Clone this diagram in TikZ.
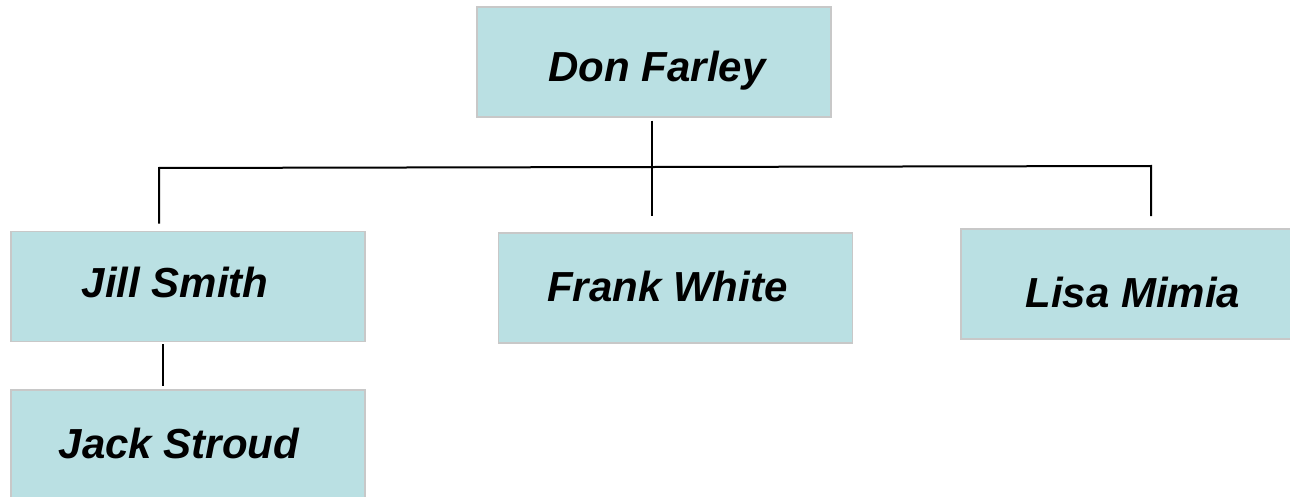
\documentclass[tikz,border=0pt]{standalone}
\usepackage{fontspec}
\setmainfont{Liberation Sans}
\definecolor{boxfill}{RGB}{186,224,227}
\definecolor{boxline}{RGB}{200,200,200}
% Text im Kasten verschieben: {dx}{dy}{Text}
\newcommand{\nudge}[3]{\raisebox{-#2}{\hspace*{#1}#3\hspace*{-#1}}}
\tikzset{
	person/.style={draw=boxline, line width=1.5pt, fill=boxfill,
		minimum width=354pt, minimum height=110pt, inner sep=0pt,
		text height=28pt, text depth=2pt,
		font=\fontsize{42}{50}\selectfont\bfseries\itshape},
	link/.style={draw=black, line width=2pt}
}
\begin{document}
\begin{tikzpicture}[x=1pt, y=-1pt]
	\useasboundingbox (0,0) rectangle (1290,497);
	% Kaesten
	\node[person] (don) at (654,62) {\nudge{3pt}{7pt}{Don Farley}};
	\node[person] (jill) at (188,286.5) {\nudge{-13pt}{-2.5pt}{Jill Smith}};
	\node[person] (frank) at (675.5,288) {\nudge{-8pt}{0pt}{Frank White}};
	\node[person] (lisa) at (1138,284) {\nudge{-5pt}{10pt}{Lisa Mimia}};
	\node[person] (jack) at (188,445) {\nudge{-9pt}{0pt}{Jack Stroud}};
	% Verbindungen
	\coordinate (hub) at (652,167);
	\coordinate (busL) at (159,168);
	\coordinate (busR) at (1151,166);
	\draw[link, shorten <=3pt, shorten >=16pt] (don.south -| hub) -- (hub |- frank.north);
	\draw[link, shorten <=7pt, shorten >=12pt] (jill.north -| busL) -- (busL) -- (busR) -- (lisa.north -| busR);
	\draw[link, shorten <=2pt, shorten >=3pt] ([xshift=-25pt]jill.south) -- ([xshift=-25pt]jill.south |- jack.north);
\end{tikzpicture}
\end{document}
